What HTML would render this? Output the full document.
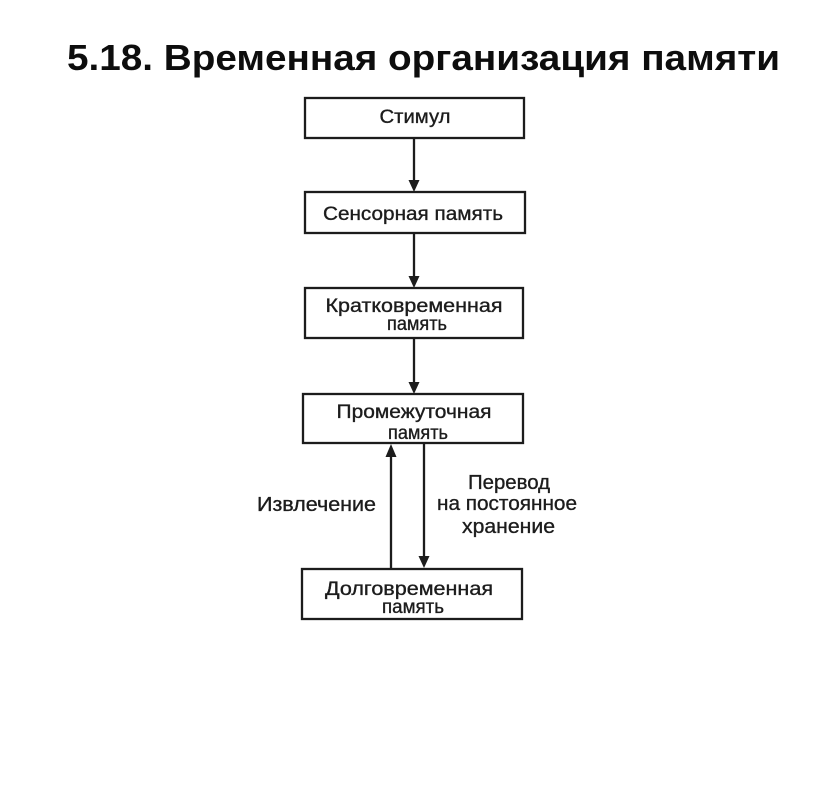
<!DOCTYPE html>
<html>
<head>
<meta charset="utf-8">
<style>
  html, body { margin:0; padding:0; background:#fff; }
  svg { display:block; }
  text { font-family: "Liberation Sans", "Noto Sans CJK SC", sans-serif; fill:#1c1c1c; }
  .t { font-size:19px; stroke:#1c1c1c; stroke-width:0.35px; }
  .l { font-size:20px; stroke:#1c1c1c; stroke-width:0.35px; }
</style>
</head>
<body>
<svg width="816" height="798" viewBox="0 0 816 798" xmlns="http://www.w3.org/2000/svg">
  <rect width="816" height="798" fill="#fff"/>
  <!-- Title -->
  <text x="67" y="70" font-size="36" font-weight="bold" textLength="713" lengthAdjust="spacingAndGlyphs" style="fill:#0d0d0d">5.18. Временная организация памяти</text>

  <g stroke="#1c1c1c" stroke-width="2.3" fill="none">
    <rect x="305" y="98" width="219" height="40"/>
    <rect x="305" y="192" width="220" height="41"/>
    <rect x="305" y="288" width="218" height="50"/>
    <rect x="303" y="394" width="220" height="49"/>
    <rect x="302" y="569" width="220" height="50"/>
    <!-- main arrows -->
    <line x1="414" y1="138" x2="414" y2="182"/>
    <line x1="414" y1="233" x2="414" y2="278"/>
    <line x1="414" y1="338" x2="414" y2="384"/>
    <!-- up arrow -->
    <line x1="391" y1="569" x2="391" y2="455"/>
    <!-- down arrow -->
    <line x1="424" y1="443" x2="424" y2="557"/>
  </g>
  <g fill="#1c1c1c">
    <polygon points="408.5,180 419.5,180 414,192"/>
    <polygon points="408.5,276 419.5,276 414,288"/>
    <polygon points="408.5,382 419.5,382 414,394"/>
    <polygon points="385.5,457 396.5,457 391,444"/>
    <polygon points="418.5,556 429.5,556 424,568"/>
  </g>

  <!-- Box texts -->
  <text class="t" x="415" y="123" text-anchor="middle" textLength="71" lengthAdjust="spacingAndGlyphs">Стимул</text>
  <text class="t" x="413" y="220" text-anchor="middle" textLength="180" lengthAdjust="spacingAndGlyphs">Сенсорная память</text>
  <text class="t" x="414" y="312" text-anchor="middle" textLength="177" lengthAdjust="spacingAndGlyphs">Кратковременная</text>
  <text class="t" x="417" y="330" text-anchor="middle" textLength="60" lengthAdjust="spacingAndGlyphs">память</text>
  <text class="t" x="414" y="418" text-anchor="middle" textLength="155" lengthAdjust="spacingAndGlyphs">Промежуточная</text>
  <text class="t" x="418" y="439" text-anchor="middle" textLength="60" lengthAdjust="spacingAndGlyphs">память</text>
  <text class="t" x="409" y="595" text-anchor="middle" textLength="168" lengthAdjust="spacingAndGlyphs">Долговременная</text>
  <text class="t" x="413" y="613" text-anchor="middle" textLength="62" lengthAdjust="spacingAndGlyphs">память</text>

  <!-- Side labels -->
  <text class="l" x="257" y="511" textLength="119" lengthAdjust="spacingAndGlyphs">Извлечение</text>
  <text class="l" x="468" y="489" textLength="82" lengthAdjust="spacingAndGlyphs">Перевод</text>
  <text class="l" x="437" y="510" textLength="140" lengthAdjust="spacingAndGlyphs">на постоянное</text>
  <text class="l" x="462" y="533" textLength="93" lengthAdjust="spacingAndGlyphs">хранение</text>
</svg>
</body>
</html>
